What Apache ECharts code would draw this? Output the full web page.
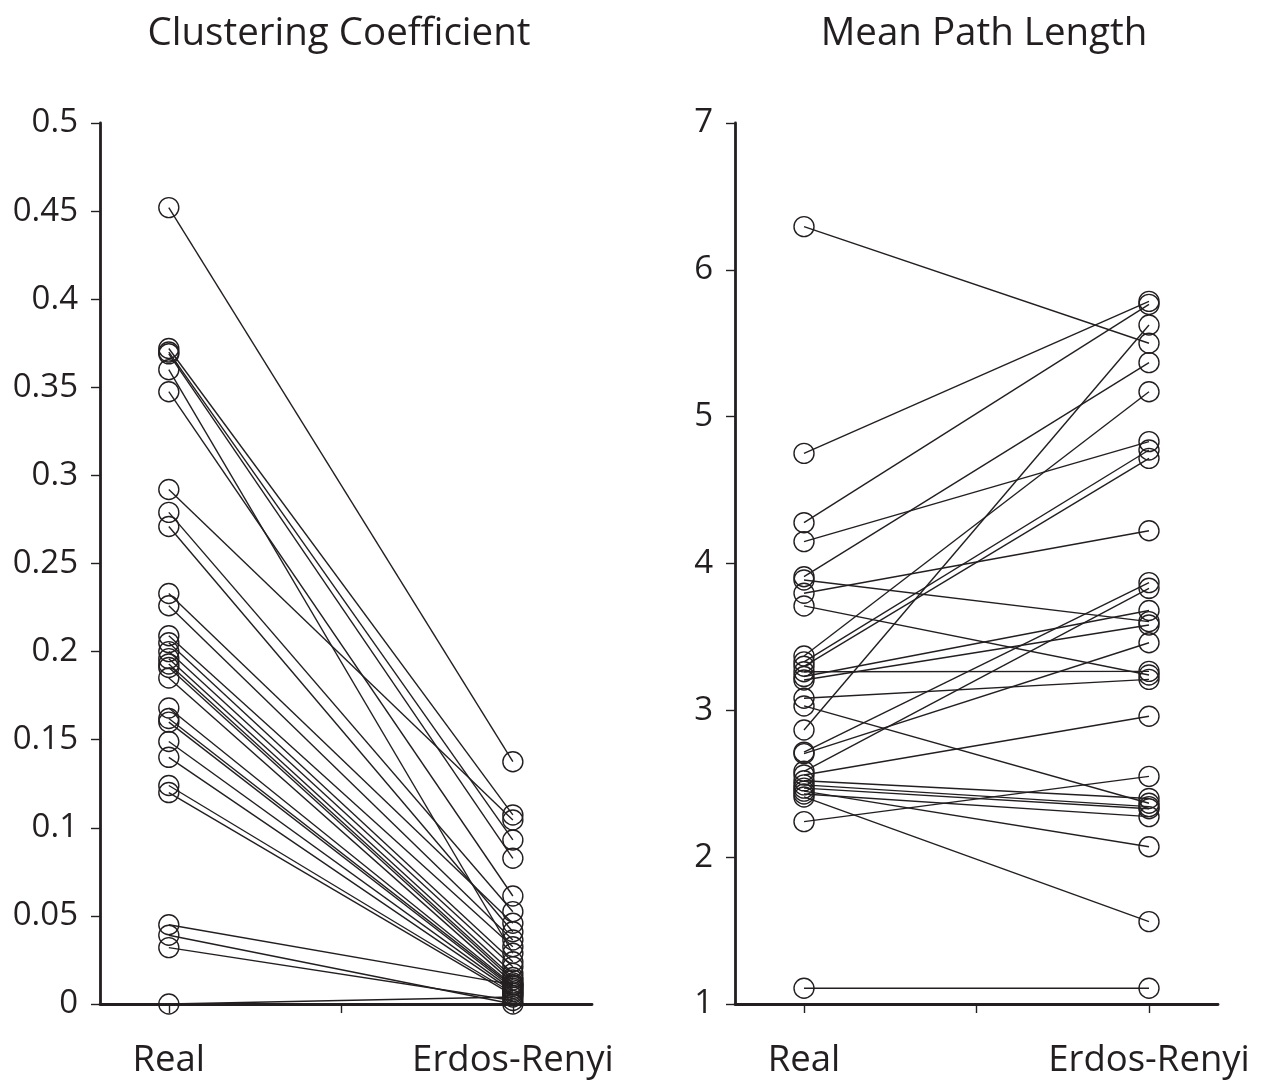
<!DOCTYPE html>
<html>
<head>
<meta charset="utf-8">
<script src="https://cdn.jsdelivr.net/npm/echarts@6/dist/echarts.min.js"></script>
<style>
html,body{margin:0;padding:0;background:#fff;}
#chart{width:1265px;height:1084px;}
</style>
</head>
<body>
<div id="chart"></div>
<script>
// Group labels on the x axis
const groups = ['Real', 'Erdos-Renyi'];
const groupPositions = [1, 2];
const xTickPositions = [1, 1.5, 2];

// Panel titles
const titles = ['Clustering Coefficient', 'Mean Path Length'];

// Y tick labels
const ccTicks = [0, 0.05, 0.1, 0.15, 0.2, 0.25, 0.3, 0.35, 0.4, 0.45, 0.5];
const plTicks = [1, 2, 3, 4, 5, 6, 7];

// Clustering coefficient: real network value and its Erdos-Renyi counterpart (paired by index)
const ccReal = [0.452, 0.372, 0.370, 0.369, 0.360, 0.3475, 0.292, 0.279, 0.271, 0.233,
                0.226, 0.209, 0.205, 0.200, 0.196, 0.193, 0.191, 0.185, 0.168, 0.162,
                0.160, 0.149, 0.140, 0.124, 0.120, 0.045, 0.039, 0.032, 0.000];
const ccER   = [0.1375, 0.1073, 0.0931, 0.0827, 0.0288, 0.0613, 0.1044, 0.0524, 0.0410, 0.0458,
                0.0363, 0.0325, 0.0240, 0.0212, 0.0174, 0.0150, 0.0136, 0.0120, 0.0108, 0.0100,
                0.0089, 0.0080, 0.0070, 0.0061, 0.0050, 0.0110, 0.0000, 0.0020, 0.0040];

// Mean path length: real network value and its Erdos-Renyi counterpart (paired by index)
const plReal = [6.294, 4.750, 4.278, 4.149, 3.910, 3.888, 3.797, 3.711, 3.370, 3.330,
                3.300, 3.263, 3.230, 3.207, 3.082, 3.030, 2.866, 2.715, 2.705, 2.585,
                2.560, 2.520, 2.492, 2.470, 2.450, 2.430, 2.410, 2.242, 1.107];
const plER   = [5.500, 5.785, 5.765, 4.830, 5.368, 3.604, 4.223, 3.241, 5.170, 4.773,
                4.716, 3.265, 3.680, 3.581, 3.211, 2.367, 5.624, 3.870, 3.460, 3.831,
                2.960, 2.400, 2.344, 2.330, 2.071, 2.276, 1.561, 2.550, 1.107];

const INK = '#231f20';
const FONT = '"Open Sans", "Noto Sans", sans-serif';

function pairSeries(realArr, erArr, gridIdx) {
  return realArr.map((r, i) => ({
    type: 'line',
    xAxisIndex: gridIdx,
    yAxisIndex: gridIdx,
    data: [[groupPositions[0], r], [groupPositions[1], erArr[i]]],
    symbol: 'circle',
    symbolSize: 20,
    showSymbol: true,
    clip: false,
    silent: true,
    itemStyle: { color: 'rgba(0,0,0,0)', borderColor: INK, borderWidth: 1.4 },
    lineStyle: { color: INK, width: 1.4 },
    emphasis: { disabled: true }
  }));
}

function xAxisDef(gridIdx, maxV) {
  return {
    type: 'value', gridIndex: gridIdx, min: 0.8, max: maxV,
    splitLine: { show: false },
    axisLine: { show: true, onZero: false, lineStyle: { color: INK, width: 2.8 } },
    axisTick: { show: true, customValues: xTickPositions, length: 9, inside: false,
                lineStyle: { color: INK, width: 1.4 } },
    axisLabel: { customValues: groupPositions, margin: 38, color: INK,
                 fontFamily: FONT, fontSize: 36.5,
                 formatter: v => groups[groupPositions.indexOf(Math.round(v))] }
  };
}

function yAxisDef(gridIdx, ticks) {
  return {
    type: 'value', gridIndex: gridIdx, min: ticks[0], max: ticks[ticks.length - 1],
    splitLine: { show: false },
    axisLine: { show: true, onZero: false, lineStyle: { color: INK, width: 2.8 } },
    axisTick: { show: true, customValues: ticks, length: 9, inside: false,
                lineStyle: { color: INK, width: 1.4 } },
    axisLabel: { customValues: ticks, margin: 22, color: INK,
                 fontFamily: FONT, fontSize: 33,
                 formatter: v => String(+v.toFixed(2)) }
  };
}

const chart = echarts.init(document.getElementById('chart'), null, { renderer: 'canvas' });
chart.setOption({
  animation: false,
  backgroundColor: '#ffffff',
  grid: [
    { left: 100, top: 123, width: 492, height: 881 },
    { left: 735, top: 123, width: 483, height: 881 }
  ],
  xAxis: [xAxisDef(0, 2.23), xAxisDef(1, 2.2)],
  yAxis: [yAxisDef(0, ccTicks), yAxisDef(1, plTicks)],
  graphic: [
    { type: 'text', x: 339, y: 34, style: { text: titles[0], font: '38.5px ' + FONT, fill: INK, textAlign: 'center', textVerticalAlign: 'middle' } },
    { type: 'text', x: 984, y: 34, style: { text: titles[1], font: '38.5px ' + FONT, fill: INK, textAlign: 'center', textVerticalAlign: 'middle' } }
  ],
  series: [].concat(pairSeries(ccReal, ccER, 0), pairSeries(plReal, plER, 1))
});
</script>
</body>
</html>
